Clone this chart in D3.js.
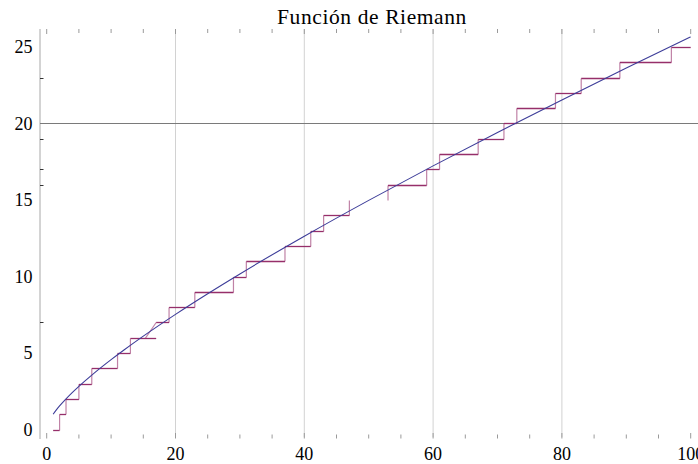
<!DOCTYPE html>
<html>
<head>
<meta charset="utf-8">
<script src="https://cdn.jsdelivr.net/npm/d3@7"></script>
<style>
  body { margin: 0; background: #fff; }
  svg { display: block; }
</style>
</head>
<body>
<div id="chart"></div>
<script>
// data
const title = "Función de Riemann";
const primes = [2, 3, 5, 7, 11, 13, 17, 19, 23, 29, 31, 37, 41, 43, 47, 53, 59, 61, 67, 71, 73, 79, 83, 89, 97];
const stepStart = 1;
const stepEnd = 100;
const riemannX = [1, 1.5, 2, 3, 4, 5, 7, 10, 12, 15, 20, 25, 30, 40, 50, 60, 70, 80, 90, 100];
const riemannY = [1, 1.284, 1.541, 2.005, 2.427, 2.821, 3.555, 4.565, 5.197, 6.103, 7.527, 8.876, 10.169, 12.633, 14.976, 17.230, 19.415, 21.543, 23.623, 25.662];
const missingLevels = [15];          // level whose flat piece is not drawn
const slantedJumps = [[17, 15.3]];   // jump drawn as a slope from x=15.3
const xTickLabels = [0, 20, 40, 60, 80, 100];
const xSmallTicks = [0, 5, 10, 15, 20, 25, 30, 35, 40, 45, 50, 55, 60, 65, 70, 75, 80, 85, 90, 95, 100];
const yTickLabels = [0, 5, 10, 15, 20, 25];
const ySmallTicks = [7, 16, 17, 19, 23];
const gridX = [20, 40, 60, 80];
const refLine = 20;

const W = 698, H = 464;
const serif = "Liberation Serif, DejaVu Serif, serif";
const stepColor = "#962f6a";
const curveColor = "#3d3d99";

const x = d3.scaleLinear().domain([0, 100]).range([46.7, 690.7]);
const y = d3.scaleLinear().domain([0, 25]).range([429.5, 47]);
const plotTop = 29, plotBottom = 437, axisX = 40;

const svg = d3.select("#chart").append("svg")
    .attr("width", W)
    .attr("height", H);

// title
svg.append("text")
    .attr("x", 372)
    .attr("y", 24)
    .attr("text-anchor", "middle")
    .attr("font-family", serif)
    .attr("font-size", 21.5)
    .attr("letter-spacing", 0.6)
    .text(title);

// grid
svg.selectAll("line.grid")
    .data(gridX)
    .enter().append("line")
    .attr("class", "grid")
    .attr("x1", d => x(d)).attr("x2", d => x(d))
    .attr("y1", plotTop).attr("y2", plotBottom)
    .attr("stroke", "#d2d2d2")
    .attr("stroke-width", 1);

// frame ticks top and bottom
svg.selectAll("line.tickb")
    .data(xSmallTicks)
    .enter().append("line")
    .attr("class", "tickb")
    .attr("x1", d => x(d)).attr("x2", d => x(d))
    .attr("y1", d => d % 20 === 0 ? 433 : 434.5).attr("y2", 438.5)
    .attr("stroke", "#9a9a9a");

svg.selectAll("line.tickt")
    .data(xSmallTicks)
    .enter().append("line")
    .attr("class", "tickt")
    .attr("x1", d => x(d)).attr("x2", d => x(d))
    .attr("y1", plotTop).attr("y2", d => d % 20 === 0 ? 34 : 33)
    .attr("stroke", "#9a9a9a");

// left axis
svg.append("line")
    .attr("x1", axisX).attr("x2", axisX)
    .attr("y1", plotTop).attr("y2", 439)
    .attr("stroke", "#a8a8a8");

svg.selectAll("line.ytick")
    .data(ySmallTicks)
    .enter().append("line")
    .attr("class", "ytick")
    .attr("x1", axisX).attr("x2", axisX + 3.5)
    .attr("y1", d => Math.round(y(d)) + 0.5).attr("y2", d => Math.round(y(d)) + 0.5)
    .attr("stroke", "#333");

// horizontal line at 20
svg.append("line")
    .attr("x1", axisX).attr("x2", W)
    .attr("y1", Math.round(y(refLine)) + 0.5).attr("y2", Math.round(y(refLine)) + 0.5)
    .attr("stroke", "#7a7a7a");

// labels
svg.selectAll("text.xl")
    .data(xTickLabels)
    .enter().append("text")
    .attr("class", "xl")
    .attr("x", d => x(d))
    .attr("y", 460)
    .attr("text-anchor", "middle")
    .attr("font-family", serif)
    .attr("font-size", 18)
    .text(d => d);

svg.selectAll("text.yl")
    .data(yTickLabels)
    .enter().append("text")
    .attr("class", "yl")
    .attr("x", 32.5)
    .attr("y", d => y(d) + 6)
    .attr("text-anchor", "end")
    .attr("font-family", serif)
    .attr("font-size", 18)
    .text(d => d);

// step function pi(x)
const edges = [stepStart, ...primes, stepEnd];
const flats = d3.range(edges.length - 1)
    .map(i => ({ level: i, x0: edges[i], x1: edges[i + 1] }))
    .filter(d => !missingLevels.includes(d.level));

svg.selectAll("line.flat")
    .data(flats)
    .enter().append("line")
    .attr("class", "flat")
    .attr("x1", d => x(d.x0)).attr("x2", d => x(d.x1))
    .attr("y1", d => Math.round(y(d.level)) + 0.5).attr("y2", d => Math.round(y(d.level)) + 0.5)
    .attr("stroke", stepColor)
    .attr("stroke-width", 1.3);

const slantMap = new Map(slantedJumps);
svg.selectAll("line.jump")
    .data(primes.map((p, i) => ({ p, from: i, to: i + 1 })))
    .enter().append("line")
    .attr("class", "jump")
    .attr("x1", d => x(slantMap.has(d.p) ? slantMap.get(d.p) : d.p))
    .attr("x2", d => x(d.p))
    .attr("y1", d => Math.round(y(d.from)) + 0.5)
    .attr("y2", d => Math.round(y(d.to)) + 0.5)
    .attr("stroke", stepColor)
    .attr("stroke-opacity", 0.6)
    .attr("stroke-width", 1.2);

// Riemann R curve
const line = d3.line()
    .x(d => x(d[0]))
    .y(d => y(d[1]))
    .curve(d3.curveMonotoneX);

svg.append("path")
    .datum(riemannX.map((v, i) => [v, riemannY[i]]))
    .attr("d", line)
    .attr("fill", "none")
    .attr("stroke", curveColor)
    .attr("stroke-width", 1.1);
</script>
</body>
</html>
